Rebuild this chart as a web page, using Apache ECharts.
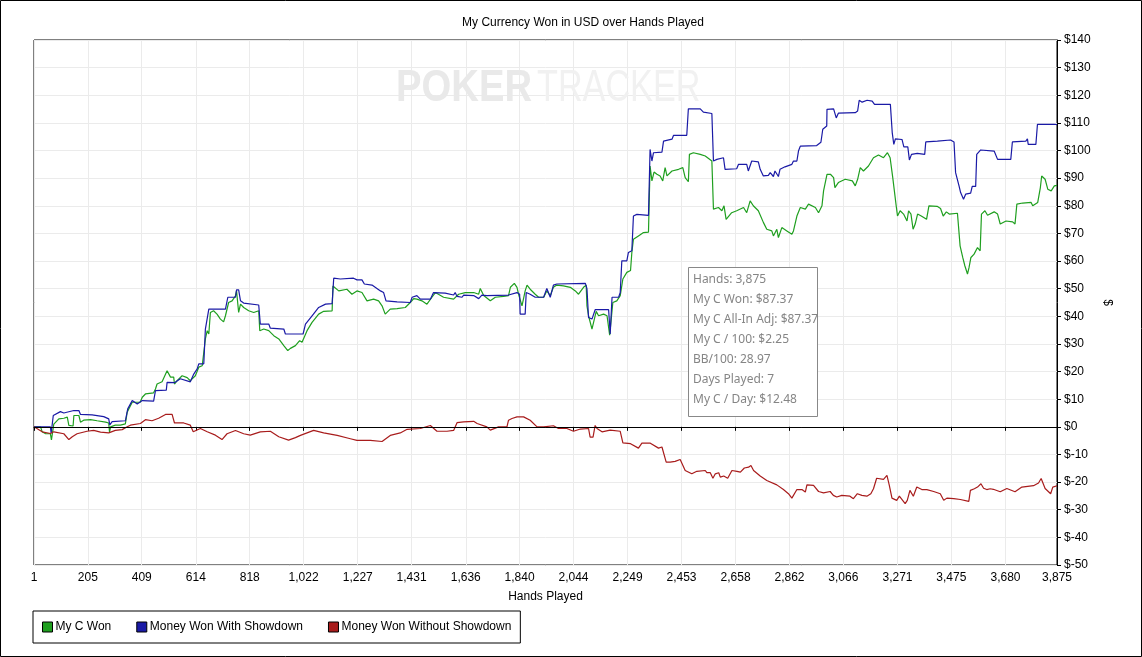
<!DOCTYPE html>
<html>
<head>
<meta charset="utf-8">
<title>My Currency Won in USD over Hands Played</title>
<script src="https://cdn.jsdelivr.net/npm/echarts@6/dist/echarts.min.js"></script>
<style>
    html, body { margin: 0; padding: 0; background: #fff; }
    #mainChart { width: 1142px; height: 657px; }
</style>
</head>
<body>
<div id="mainChart"></div>
<script>
// hands played tick values on the x axis
const xTicks = [1, 205, 409, 614, 818, 1022, 1227, 1431, 1636, 1840, 2044, 2249, 2453, 2658, 2862, 3066, 3271, 3475, 3680, 3875];

// [hand, dollars]
const myCWon = [
    [1, 0], [26, 0], [32, -1.8], [45, -2.5], [63, -2.5], [67, -4.7], [74, -4.7], [76, 1], [82, 1.7], [95, 2.9],
    [114, 3.1], [127, 3.5], [133, 0.5], [149, 0.3], [152, 4.1], [171, 4.1], [177, 1.7], [189, 2.4], [215, 2.6], [240, 2.2],
    [272, 1.7], [284, 1.4], [287, -1.9], [291, 0], [309, 0.6], [328, 0.6], [347, 1.1], [354, 5.3], [360, 6.5], [373, 8.9],
    [379, 9.6], [403, 8.9], [411, 10.7], [423, 11.9], [454, 12.3], [461, 13.7], [467, 15.5], [486, 16.3], [505, 20.3], [512, 20.3],
    [518, 18], [530, 18], [533, 15.5], [543, 16.7], [562, 18.5], [581, 17.8], [593, 16.7], [600, 16.3], [612, 18.5], [625, 21.6],
    [638, 22.1], [644, 21.6], [650, 31.8], [657, 34.8], [663, 33.6], [669, 41.4], [681, 42], [694, 40.8], [707, 39], [713, 39],
    [719, 38], [726, 40.2], [738, 45], [751, 45.6], [764, 47.4], [768, 49.2], [772, 48.6], [776, 41.4], [783, 44.4], [795, 43.2],
    [814, 42], [833, 41.4], [852, 42], [856, 34.8], [871, 35.4], [890, 34.8], [909, 33], [928, 31.8], [947, 29.4], [962, 27.6],
    [972, 28.4], [991, 29.4], [1007, 31.2], [1016, 30.6], [1035, 34.8], [1054, 37.8], [1079, 40.8], [1098, 41.8], [1130, 42], [1133, 51],
    [1155, 49.2], [1186, 49.8], [1205, 48], [1224, 49.2], [1243, 48.6], [1262, 45.6], [1287, 46.2], [1306, 45.6], [1319, 43.8], [1331, 40.8],
    [1350, 42.6], [1376, 42.8], [1407, 43.2], [1426, 45], [1439, 46.4], [1451, 46.2], [1470, 45.6], [1489, 44.4], [1508, 46.9], [1521, 48.6],
    [1552, 46.9], [1590, 46.2], [1609, 48], [1634, 48.6], [1666, 48.6], [1685, 48], [1691, 50.1], [1704, 47.5], [1729, 45.6], [1748, 46.9],
    [1779, 47.2], [1798, 47.5], [1805, 50.5], [1820, 51.9], [1830, 50.5], [1836, 48], [1849, 43.8], [1855, 43.2], [1861, 49.2], [1868, 51.3],
    [1880, 49.8], [1899, 48], [1912, 46.9], [1931, 46.9], [1943, 49.2], [1956, 47.5], [1968, 50.5], [1981, 51.3], [2006, 51], [2032, 50.5],
    [2051, 49.2], [2063, 48], [2082, 50.5], [2092, 51.3], [2095, 43.8], [2101, 40.2], [2114, 35.4], [2120, 36], [2130, 41.8], [2139, 40.2],
    [2158, 40.8], [2171, 40.2], [2177, 39.6], [2181, 33.2], [2185, 33.2], [2193, 45], [2208, 45.6], [2221, 47.5], [2231, 53.5], [2246, 55.9],
    [2260, 56.6], [2265, 63.1], [2271, 67.9], [2290, 69.1], [2309, 70.3], [2328, 70.5], [2334, 94.4], [2341, 89], [2349, 92.2], [2360, 91.4],
    [2372, 90.8], [2382, 89], [2391, 93.8], [2398, 90.8], [2417, 92.6], [2442, 93.2], [2458, 93.8], [2467, 90.2], [2479, 88.7], [2483, 98.6],
    [2498, 99.2], [2524, 98.6], [2543, 98], [2568, 96.2], [2574, 78.8], [2593, 79.4], [2606, 78.2], [2614, 80], [2622, 75.1], [2643, 77.5],
    [2662, 78.2], [2688, 79.4], [2700, 77.5], [2713, 81.8], [2725, 80], [2744, 78.2], [2763, 74], [2776, 71.5], [2795, 70.9], [2801, 69.1],
    [2814, 71.5], [2820, 68.5], [2833, 72.1], [2852, 70.9], [2871, 69.7], [2877, 70.9], [2890, 76.3], [2903, 79.4], [2922, 78.8], [2934, 80.6],
    [2960, 79.4], [2972, 77.5], [2985, 80], [2991, 85.4], [3004, 91.4], [3017, 91.4], [3029, 90.2], [3034, 86.6], [3047, 88.4], [3073, 89.6],
    [3100, 89], [3111, 87.2], [3120, 89.6], [3130, 93.8], [3142, 92.6], [3161, 94.4], [3180, 97.4], [3199, 98.4], [3218, 97.4], [3233, 99.2],
    [3243, 97.4], [3253, 90.2], [3266, 80], [3271, 76.3], [3281, 78.2], [3294, 77], [3307, 74.5], [3313, 78.2], [3322, 77], [3330, 71.5],
    [3338, 73.4], [3347, 77], [3361, 76.3], [3381, 75.1], [3390, 80], [3421, 79.8], [3434, 79], [3444, 76.3], [3456, 77.8], [3467, 77],
    [3498, 77.3], [3508, 65.5], [3518, 61.3], [3526, 58.3], [3536, 55.3], [3542, 57.7], [3549, 61.3], [3561, 62.5], [3574, 64.9], [3584, 63.7],
    [3589, 77], [3602, 78.2], [3612, 76.6], [3637, 77.8], [3650, 77], [3660, 73.4], [3682, 74.5], [3707, 74.2], [3716, 73.4], [3723, 80.6],
    [3745, 81], [3777, 81.2], [3783, 80], [3802, 81.2], [3812, 86.6], [3817, 90.8], [3830, 89.6], [3840, 86], [3853, 85.4], [3865, 87.2],
    [3875, 87.37]
];

const wonWithShowdown = [
    [1, 0], [63, 0], [66, -2.3], [74, 4.1], [101, 5.5], [114, 5], [152, 5.9], [171, 5.9], [177, 4.5], [221, 4.3],
    [227, 3.8], [265, 3.7], [284, 2.9], [288, 0.7], [297, 1.9], [347, 2.2], [356, 6.5], [373, 9.5], [392, 8.3], [411, 9.5],
    [454, 9.3], [461, 13.1], [502, 13.3], [505, 16.1], [533, 16], [537, 16.7], [555, 17.4], [593, 16.3], [600, 15.9], [606, 19.1],
    [619, 21], [625, 22.8], [644, 22.8], [650, 35.4], [663, 42.6], [726, 42.6], [735, 46.9], [764, 46.9], [768, 49.6], [776, 49.6],
    [783, 45.6], [795, 44.8], [852, 44.1], [858, 37.2], [890, 37.2], [896, 35.7], [947, 35.4], [953, 33.6], [1020, 33.6], [1029, 37.2],
    [1054, 40.2], [1079, 43.2], [1105, 44.4], [1130, 44.6], [1136, 53.8], [1161, 53.5], [1211, 53.8], [1224, 53.2], [1243, 53.2], [1252, 51.7],
    [1281, 51.3], [1313, 49.2], [1325, 48.6], [1334, 45.6], [1376, 45.2], [1426, 45], [1433, 46.9], [1451, 47.5], [1464, 46.2], [1502, 46.2],
    [1514, 48.6], [1558, 48.4], [1590, 47.7], [1596, 48.6], [1603, 47.2], [1622, 46.9], [1628, 47.7], [1666, 47.5], [1685, 46.4], [1697, 47.7],
    [1716, 47.5], [1798, 47.7], [1830, 48.6], [1840, 48], [1842, 40.8], [1861, 40.8], [1865, 48.6], [1880, 48], [1899, 46.9], [1931, 46.9],
    [1943, 50.1], [1956, 46.9], [1968, 51.3], [1981, 51.7], [2089, 51.9], [2095, 50], [2101, 39.6], [2114, 39], [2126, 42.4], [2177, 42.4],
    [2183, 33.6], [2190, 46.9], [2215, 46.9], [2221, 48.6], [2227, 60.1], [2246, 60.1], [2252, 63.1], [2265, 63.7], [2271, 76.3], [2284, 76.9],
    [2328, 76.5], [2334, 100.4], [2341, 96.2], [2347, 99.2], [2379, 99.4], [2385, 103.4], [2417, 104.1], [2423, 105.5], [2473, 105.5], [2479, 115.1],
    [2524, 115.1], [2536, 113.9], [2568, 113.4], [2574, 96.2], [2587, 96.8], [2612, 97.4], [2618, 93.2], [2662, 93.4], [2669, 95], [2700, 95],
    [2706, 92.6], [2719, 96.2], [2744, 95.9], [2751, 93.2], [2763, 90.8], [2782, 91], [2789, 92], [2801, 90.6], [2807, 92.6], [2820, 90.6],
    [2826, 93.2], [2845, 94.1], [2871, 95], [2877, 96.2], [2890, 96.2], [2896, 99.8], [2903, 101.6], [2965, 101.8], [2981, 103], [2988, 107.7],
    [3003, 108.9], [3004, 114.9], [3029, 115.1], [3039, 111.8], [3047, 113.5], [3111, 113.7], [3120, 114.3], [3126, 118.2], [3137, 117.5], [3156, 118.2],
    [3175, 117.9], [3184, 116.7], [3244, 116.7], [3251, 106.5], [3257, 102.2], [3263, 104.2], [3288, 104], [3295, 101.3], [3310, 101.3], [3316, 96.6],
    [3324, 98.6], [3346, 99], [3374, 98.6], [3378, 103.1], [3422, 103.4], [3472, 103.8], [3485, 103.1], [3491, 92], [3504, 87.2], [3510, 84.8],
    [3521, 82.4], [3529, 84.2], [3548, 84.6], [3554, 87], [3567, 87], [3571, 98.6], [3586, 100.2], [3637, 99.8], [3650, 96.8], [3700, 96.8],
    [3706, 103.1], [3757, 103.4], [3763, 104.2], [3766, 102.2], [3795, 102.2], [3801, 109.5], [3864, 109.5], [3875, 109.4]
];

const wonWithoutShowdown = [
    [1, 0], [32, -1.8], [63, -2.4], [76, -1.8], [114, -2.5], [133, -4.6], [146, -3.6], [164, -2.5], [202, -1.6], [227, -1.3],
    [253, -1.9], [284, -2.2], [309, -1.3], [335, -1], [354, 0], [366, 0.6], [404, 1.2], [423, 2.6], [448, 2.2], [473, 3.1],
    [499, 4.5], [524, 4.5], [533, 1.4], [568, 1.4], [593, 0.6], [604, -1.8], [631, -0.6], [657, -1.8], [688, -3], [713, -4.6],
    [732, -2.5], [764, -1.3], [795, -2.5], [820, -3], [858, -1.8], [896, -1.6], [928, -3.6], [965, -4.8], [991, -3.9], [1010, -3.1],
    [1060, -1.3], [1098, -2.2], [1149, -3.1], [1199, -4.3], [1224, -4.9], [1275, -4.9], [1319, -5.3], [1350, -3.1], [1388, -2.2], [1414, -0.9],
    [1464, -0.6], [1502, 0.5], [1527, -1.6], [1565, -1.6], [1590, -1.3], [1603, 1.5], [1628, 1.8], [1666, 2], [1679, 1.2], [1716, 0],
    [1729, -1.2], [1760, 0], [1792, 0], [1798, 2.4], [1811, 3], [1830, 3.6], [1855, 3.6], [1880, 2.4], [1906, 0], [1931, 0],
    [1968, 0.4], [1987, -0.6], [2019, -0.6], [2044, -1.6], [2070, -0.8], [2101, -0.6], [2107, -3.7], [2118, -3.7], [2126, 0.5], [2133, -0.6],
    [2152, -1.8], [2183, -1.2], [2221, -1.6], [2231, -5.8], [2260, -6.1], [2290, -7.7], [2303, -5.9], [2335, -5.9], [2366, -7.7], [2379, -7.3],
    [2395, -12.8], [2410, -12.8], [2429, -12.5], [2448, -11.8], [2454, -12.2], [2467, -15.8], [2492, -17], [2511, -16.1], [2543, -15.8], [2549, -16.6],
    [2562, -16.6], [2572, -18.6], [2581, -17], [2594, -16.6], [2600, -18.2], [2613, -17.8], [2628, -18.6], [2644, -15.8], [2663, -16.1], [2676, -16.4],
    [2691, -14.9], [2707, -14.6], [2716, -14], [2726, -15.8], [2751, -17.8], [2776, -19.4], [2814, -21], [2839, -22.7], [2858, -24.2], [2871, -25.8],
    [2890, -22.7], [2909, -22.7], [2922, -23.6], [2928, -21], [2953, -21.2], [2972, -23.4], [2991, -23.9], [3016, -23.4], [3028, -24.8], [3041, -25.4],
    [3060, -24.8], [3091, -25.1], [3104, -26], [3119, -24.2], [3136, -24.8], [3155, -25.1], [3170, -24.2], [3180, -22.4], [3192, -18.6], [3218, -19],
    [3231, -17.6], [3240, -21.2], [3250, -25.8], [3268, -26.6], [3278, -25.1], [3300, -27.8], [3308, -26.6], [3318, -23], [3331, -25.1], [3344, -21.8],
    [3363, -22.7], [3382, -22.7], [3408, -23.4], [3433, -24.2], [3446, -26.6], [3458, -25.8], [3484, -26], [3509, -26.3], [3541, -27], [3547, -23],
    [3562, -22.4], [3574, -21.8], [3587, -20.6], [3597, -22.2], [3609, -22.7], [3622, -22.4], [3634, -22.6], [3660, -23.5], [3685, -22.3], [3716, -23.5],
    [3742, -21.8], [3786, -21.3], [3805, -20.3], [3815, -18.7], [3830, -22.3], [3851, -24.2], [3859, -21.8], [3875, -21.3]
];

const infoLines = [
    'Hands: 3,875',
    'My C Won: $87.37',
    'My C All-In Adj: $87.37',
    'My C / 100: $2.25',
    'BB/100: 28.97',
    'Days Played: 7',
    'My C / Day: $12.48'
];

const FONT = '"Liberation Sans", Arial, sans-serif';

function initChart() {
    let chart = echarts.init(document.getElementById('mainChart'));

    let infoTexts = infoLines.map(function (line, i) {
        return {
            type: 'text',
            x: 693,
            y: 280 + i * 20,
            z: 101,
            style: {
                text: line,
                fill: '#858585',
                font: '12px "Noto Sans", sans-serif',
                verticalAlign: 'middle'
            }
        };
    });

    let option = {
        animation: false,
        backgroundColor: '#fff',
        title: {
            text: 'My Currency Won in USD over Hands Played',
            left: 578,
            top: 12,
            textAlign: 'center',
            textStyle: {
                color: '#000',
                fontSize: 12,
                fontWeight: 'normal',
                fontFamily: FONT
            }
        },
        grid: {
            left: 34,
            right: 85,
            top: 40,
            bottom: 92,
            show: true,
            borderColor: '#000',
            borderWidth: 1,
            backgroundColor: 'transparent'
        },
        legend: {
            left: 33,
            top: 611,
            padding: [10, 9],
            itemGap: 25,
            itemWidth: 10,
            itemHeight: 10,
            icon: 'rect',
            borderColor: '#000',
            borderWidth: 1,
            itemStyle: {
                borderColor: '#000',
                borderWidth: 1
            },
            textStyle: {
                color: '#000',
                fontSize: 12,
                fontFamily: FONT,
                padding: [0, 0, 0, -2]
            },
            data: ['My C Won', 'Money Won With Showdown', 'Money Won Without Showdown']
        },
        xAxis: {
            type: 'value',
            min: 1,
            max: 3875,
            name: 'Hands Played',
            nameLocation: 'middle',
            nameGap: 26,
            nameTextStyle: {
                color: '#000',
                fontSize: 12,
                fontFamily: FONT
            },
            axisLine: {
                show: true,
                lineStyle: {color: '#000', width: 1}
            },
            axisTick: {
                show: true,
                length: 4,
                customValues: xTicks,
                lineStyle: {color: '#000'}
            },
            axisLabel: {
                customValues: xTicks,
                margin: 7,
                color: '#000',
                fontSize: 12,
                fontFamily: FONT,
                formatter: function (v) {
                    return Math.round(v).toLocaleString('en-US');
                }
            },
            splitLine: {
                show: true,
                lineStyle: {color: '#ebebeb', width: 1}
            }
        },
        yAxis: {
            type: 'value',
            position: 'right',
            min: -50,
            max: 140,
            interval: 10,
            name: '$',
            nameLocation: 'middle',
            nameGap: 44,
            nameRotate: -90,
            nameTextStyle: {
                color: '#000',
                fontSize: 12,
                fontFamily: FONT
            },
            axisLine: {
                show: true,
                lineStyle: {color: '#000', width: 1}
            },
            axisTick: {
                show: true,
                length: 4,
                lineStyle: {color: '#000'}
            },
            axisLabel: {
                margin: 7,
                color: '#000',
                fontSize: 12,
                fontFamily: FONT,
                formatter: function (v) {
                    return '$' + v;
                }
            },
            splitLine: {
                show: true,
                lineStyle: {color: '#ebebeb', width: 1}
            }
        },
        graphic: [
            {
                type: 'rect',
                z: 0,
                silent: true,
                shape: {x: 0.5, y: 0.5, width: 1141, height: 656},
                style: {fill: 'none', stroke: '#000', lineWidth: 1}
            },
            {
                type: 'text',
                x: 396,
                y: 89,
                z: 1,
                scaleX: 0.85,
                silent: true,
                style: {
                    text: 'POKER',
                    fill: '#e9e9e9',
                    font: 'bold 45px "Liberation Sans", Arial, sans-serif',
                    verticalAlign: 'middle'
                }
            },
            {
                type: 'text',
                x: 537,
                y: 89,
                z: 1,
                scaleX: 0.76,
                silent: true,
                style: {
                    text: 'TRACKER',
                    fill: '#f1f1f1',
                    font: '45px "Liberation Sans", Arial, sans-serif',
                    verticalAlign: 'middle'
                }
            },
            {
                type: 'rect',
                z: 100,
                silent: true,
                shape: {x: 688.5, y: 267.5, width: 129, height: 149},
                style: {fill: '#fff', stroke: '#888', lineWidth: 1}
            }
        ].concat(infoTexts),
        series: [
            {
                name: 'My C Won',
                type: 'line',
                data: myCWon,
                showSymbol: false,
                z: 3,
                color: '#1f9f1f',
                lineStyle: {width: 1.2, color: '#1f9f1f'},
                markLine: {
                    silent: true,
                    symbol: 'none',
                    label: {show: false},
                    lineStyle: {color: '#000', type: 'solid', width: 1},
                    data: [{yAxis: 0}]
                }
            },
            {
                name: 'Money Won With Showdown',
                type: 'line',
                data: wonWithShowdown,
                showSymbol: false,
                z: 3,
                color: '#1a1aa6',
                lineStyle: {width: 1.2, color: '#1a1aa6'}
            },
            {
                name: 'Money Won Without Showdown',
                type: 'line',
                data: wonWithoutShowdown,
                showSymbol: false,
                z: 3,
                color: '#a81c1c',
                lineStyle: {width: 1.2, color: '#a81c1c'}
            }
        ]
    };
    chart.setOption(option);
}

initChart();
</script>
</body>
</html>
